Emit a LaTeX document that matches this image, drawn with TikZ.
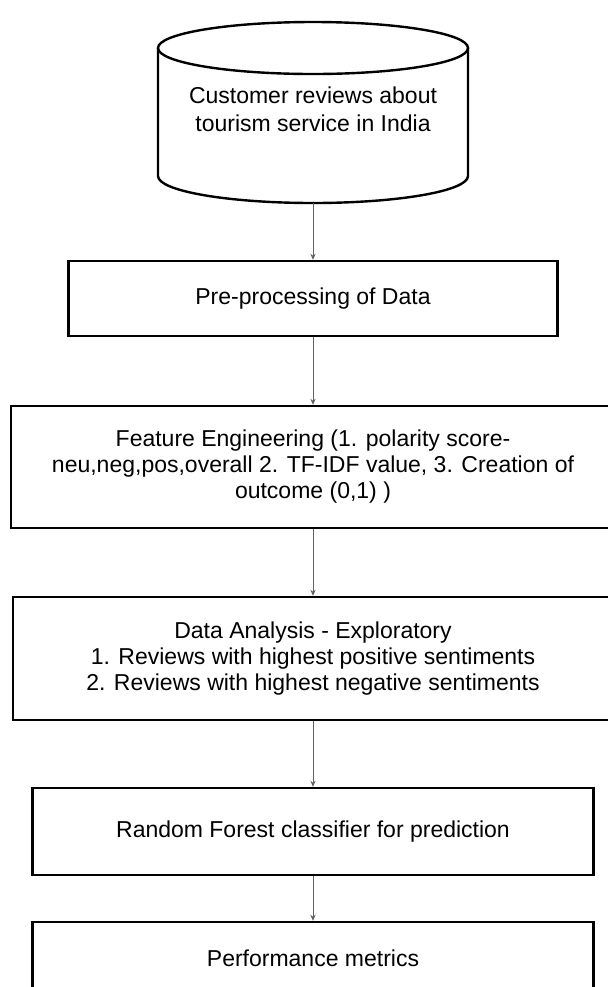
\documentclass[tikz,border=0pt]{standalone}
\usepackage{fontspec}
\setmainfont{Liberation Sans}
\usetikzlibrary{arrows.meta}
\begin{document}
\begin{tikzpicture}[x=0.5pt,y=-0.5pt,
  txt/.style={font=\fontsize{11.5}{13}\selectfont, align=center, inner sep=0pt},
  box/.style={txt, draw=black, line width=1.2pt},
  flow/.style={draw=black!62, line width=0.5pt, -{Stealth[length=3pt,width=2.6pt]}}]
\clip (0,0) rectangle (608,987);
\fill[white] (0,0) rectangle (608,987);
% cylinder
\draw[line width=1.2pt] (313,48) ellipse [x radius=155, y radius=26];
\draw[line width=1.2pt] (158,48) -- (158,176) arc [start angle=180, end angle=0, x radius=155, y radius=27] -- (468,48);
\node[txt, font=\fontsize{11.5}{14}\selectfont] (db) at (313,109) {Customer reviews about\\tourism service in India};
\coordinate (dbbot) at (313,203);
% boxes
\node[box, minimum width=244.5pt, minimum height=37.5pt] (b1) at (313,298.5) {Pre-processing of Data};
\node[box, minimum width=302pt, minimum height=61pt] (b2) at (313,467) {Feature Engineering (1. polarity score-\\neu,neg,pos,overall 2. TF-IDF value, 3. Creation of\\outcome (0,1) )};
\node[box, minimum width=300pt, minimum height=61.5pt] (b3) at (313,658.5) {Data Analysis - Exploratory\\1. Reviews with highest positive sentiments\\2. Reviews with highest negative sentiments};
\node[box, minimum width=280.5pt, minimum height=43.5pt] (b4) at (313,831.5) {Random Forest classifier for prediction};
\node[box, minimum width=280.5pt, minimum height=36pt] (b5) at (313,958) {Performance metrics};
% connectors
\draw[flow] (dbbot) -- (b1.north);
\draw[flow] (b1.south) -- (b2.north);
\draw[flow] (b2.south) -- (b3.north);
\draw[flow] (b3.south) -- (b4.north);
\draw[flow] (b4.south) -- (b5.north);
\end{tikzpicture}
\end{document}
